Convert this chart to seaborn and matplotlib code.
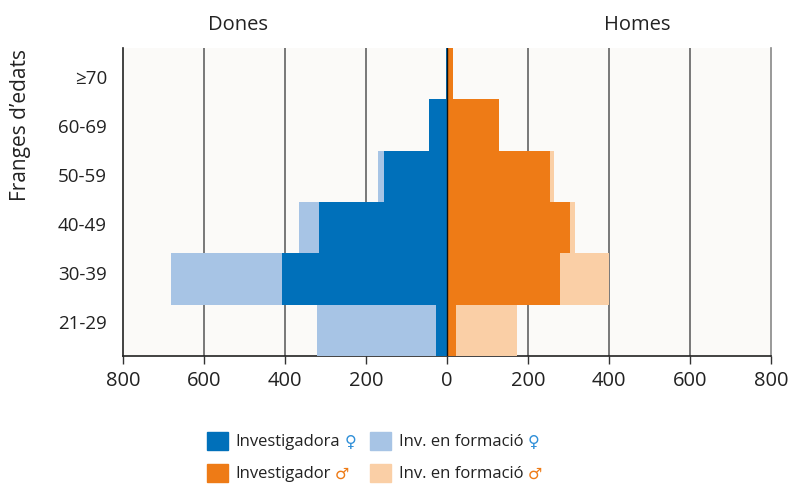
import numpy as np
import pandas as pd
import matplotlib.pyplot as plt
import seaborn as sns
from matplotlib.patches import Patch

# age bands, top to bottom
ages = ['≥70', '60-69', '50-59', '40-49', '30-39', '21-29']

# women (Dones)
investigadora = [2, 45, 155, 316, 407, 28]
inv_formacio_dona = [0, 0, 15, 49, 274, 293]

# men (Homes)
investigador = [15, 128, 254, 303, 278, 21]
inv_formacio_home = [0, 0, 9, 12, 123, 153]

xticks = [-800, -600, -400, -200, 0, 200, 400, 600, 800]

c_dona = '#0070BA'
c_dona_f = '#A7C4E5'
c_home = '#EE7B16'
c_home_f = '#FACFA6'

df = pd.DataFrame({
    'age': ages,
    'dona': -np.array(investigadora),
    'dona_tot': -(np.array(investigadora) + np.array(inv_formacio_dona)),
    'home': np.array(investigador),
    'home_tot': np.array(investigador) + np.array(inv_formacio_home),
})

sns.set_theme(style='white')
plt.rcParams['font.family'] = ['Open Sans', 'DejaVu Sans']

fig, ax = plt.subplots(figsize=(7.91, 4.86), dpi=100)
fig.subplots_adjust(left=123 / 791, right=771 / 791, top=1 - 48 / 486, bottom=1 - 356 / 486)
ax.set_facecolor('#FBFAF8')

for col, color in [('dona_tot', c_dona_f), ('dona', c_dona),
                   ('home_tot', c_home_f), ('home', c_home)]:
    sns.barplot(data=df, y='age', x=col, order=ages, color=color, width=1.0,
                saturation=1, edgecolor='none', linewidth=0, ax=ax, zorder=3)

ax.set_xlim(-800, 800)
ax.set_ylim(5.5, -0.5)
ax.set_xticks(xticks)
ax.set_xticklabels([str(abs(v)) for v in xticks], fontsize=14.5, color='#222222')
ax.tick_params(axis='x', which='both', bottom=True, length=6, width=1, color='#333333', pad=5)
# labels sit a little tighter than the rows, as in the original
ax.set_yticks([0.06 + 0.955 * i for i in range(len(ages))], ages)
ax.tick_params(axis='y', labelsize=13.5, length=0, pad=11.5, labelcolor='#222222')
ax.set_xlabel('')
ax.set_ylabel('')

for v in [-600, -400, -200, 200, 400, 600]:
    ax.axvline(v, color='#555555', lw=1.1, zorder=1)
ax.axvline(0, color='#111111', lw=1.0, zorder=4)

for side in ['left', 'bottom']:
    ax.spines[side].set_color('#222222')
    ax.spines[side].set_linewidth(1.2)
ax.spines['right'].set_color('#888888')
ax.spines['right'].set_linewidth(1.2)
ax.spines['top'].set_visible(False)

ax.text(-515, 1 + 23 / 308, 'Dones', transform=ax.get_xaxis_transform(), ha='center', va='center',
        fontsize=14.5, color='#222222')
ax.text(470, 1 + 23 / 308, 'Homes', transform=ax.get_xaxis_transform(), ha='center', va='center',
        fontsize=14.5, color='#222222')

fig.text(21 / 791, 1 - 125 / 486, 'Franges d’edats', rotation=90, ha='center', va='center',
         fontsize=15, color='#222222')

handles = [Patch(color=c_dona), Patch(color=c_home), Patch(color=c_dona_f), Patch(color=c_home_f)]
labels = ['Investigadora', 'Investigador', 'Inv. en formació', 'Inv. en formació']
symbols = ['♀', '♂', '♀', '♂']
sym_colors = ['#2F8FD8', '#EE7B16', '#2F8FD8', '#EE7B16']
leg = fig.legend(handles, labels, ncol=2, loc='upper left', bbox_to_anchor=(207 / 791, 1 - 432 / 486),
                 frameon=False, fontsize=12, handlelength=1.26, handleheight=1.26,
                 handletextpad=0.46, columnspacing=1.8, labelspacing=0.8,
                 borderpad=0, borderaxespad=0, labelcolor='#222222')

fig.canvas.draw()
for t, s, sc in zip(leg.get_texts(), symbols, sym_colors):
    bb = t.get_window_extent()
    fig.text(bb.x1 + 4, bb.y0 + bb.height / 2, s, transform=None, ha='left', va='center',
             fontsize=11.5, color=sc, family=['DejaVu Sans'])

fig.savefig('out.png', dpi=100)
